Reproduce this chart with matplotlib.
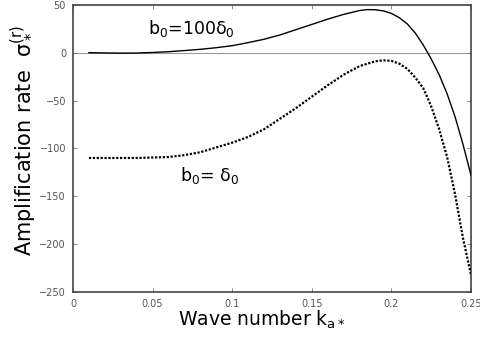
import matplotlib
matplotlib.use("Agg")
import matplotlib.pyplot as plt

k_solid = [0.01, 0.02, 0.03, 0.04, 0.05, 0.06, 0.07, 0.08, 0.09, 0.10, 0.11, 0.12, 0.13, 0.14,
           0.15, 0.16, 0.17, 0.18, 0.185, 0.19, 0.195, 0.20, 0.205, 0.21, 0.215, 0.22, 0.225,
           0.23, 0.235, 0.24, 0.245, 0.25]
s_solid = [0, -0.3, -0.5, -0.4, 0.2, 1.0, 2.2, 3.5, 5.2, 7.3, 10.5, 14, 18.5, 24,
           29.5, 35, 40, 44, 45, 44.8, 43.6, 41, 36.5, 30, 20.5, 8, -6.5,
           -23, -43, -67, -96, -128]

k_dot = [0.01, 0.02, 0.03, 0.04, 0.05, 0.06, 0.07, 0.08, 0.09, 0.10, 0.11, 0.12, 0.13, 0.14,
         0.15, 0.16, 0.17, 0.18, 0.19, 0.195, 0.20, 0.205, 0.21, 0.215, 0.22, 0.225, 0.23,
         0.235, 0.24, 0.245, 0.25]
s_dot = [-110, -110, -110, -110, -109.5, -109, -107, -104, -99, -94, -88, -80, -69, -58,
         -46, -34, -23, -14, -9, -8, -8.6, -11.5, -17, -26, -37, -56, -80,
         -109, -148, -194, -232]

xticks = [0, 0.05, 0.1, 0.15, 0.2, 0.25]
xticklabels = ["0", "0.05", "0.1", "0.15", "0.2", "0.25"]
yticks = [50, 0, -50, -100, -150, -200, -250]

fig = plt.figure(figsize=(4.81, 3.47), dpi=100)
ax = fig.add_axes([73/481, 1-292/347, (471-73)/481, (292-4.8)/347])

ax.axhline(0, color="#999999", lw=0.8, zorder=1)
ax.plot(k_solid, s_solid, color="black", lw=1.0, zorder=3)
ax.plot(k_dot, s_dot, color="black", lw=1.6, linestyle=(0, (1, 0.75)), zorder=3)

ax.set_xlim(0, 0.25)
ax.set_ylim(-250, 50)
ax.set_xticks(xticks)
ax.set_xticklabels(xticklabels)
ax.set_yticks(yticks)
ax.tick_params(direction="in", length=3, width=0.6, color="#777777",
               labelsize=7, labelcolor="#555555", top=True, right=True, pad=5)
for sp in ax.spines.values():
    sp.set_color("#444444")
    sp.set_linewidth(1.2)

ax.set_xlabel(r"Wave number k$_{\mathregular{a*}}$", fontsize=13.5)
ax.xaxis.set_label_coords((262 - 73) / 398, -0.058)
ax.set_ylabel(r"Amplification rate  $\mathregular{\sigma_*^{(r)}}$", fontsize=15)
ax.yaxis.set_label_coords(-0.09, 0.526)

ax.text(0.047, 25, r"b$_0$=100$\mathregular{\delta_0}$", fontsize=12.5, va="center", ha="left")
ax.text(0.067, -128, r"b$_0$= $\mathregular{\delta_0}$", fontsize=12.5, va="center", ha="left")

fig.savefig("out.png", dpi=100)
